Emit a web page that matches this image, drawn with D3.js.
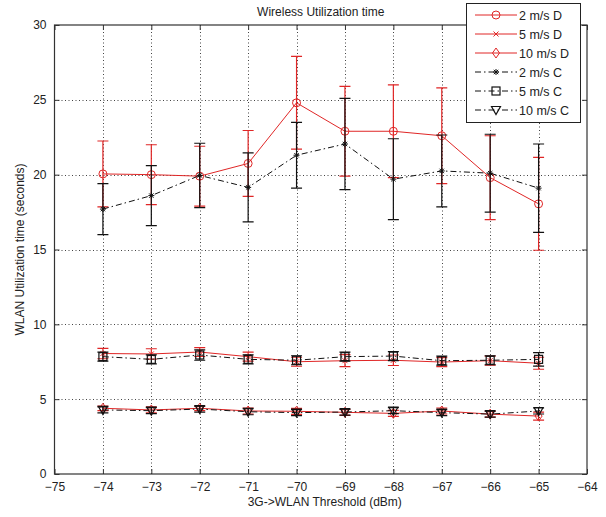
<!DOCTYPE html>
<html>
<head>
<meta charset="utf-8">
<script src="https://cdn.jsdelivr.net/npm/d3@7"></script>
<style>
  html, body { margin: 0; padding: 0; background: #fff; }
  svg { display: block; font-family: "Liberation Sans", Arial, sans-serif; }
</style>
</head>
<body>
<svg id="chart" width="606" height="517"></svg>
<script>
// Handover threshold (dBm) on the x axis
const thresholds = [-74, -73, -72, -71, -70, -69, -68, -67, -66, -65];

// Mean WLAN utilization time (s) and error half-widths per speed / scheme
const d2  = [20.05, 20.0, 19.9, 20.75, 24.8, 22.9, 22.9, 22.6, 19.8, 18.05];
const d2Err = [2.2, 2.0, 2.0, 2.2, 3.1, 3.0, 3.1, 3.2, 2.8, 3.1];
const d5  = [8.05, 8.02, 8.15, 7.84, 7.5, 7.57, 7.6, 7.48, 7.57, 7.4];
const d5Err = [0.35, 0.35, 0.3, 0.3, 0.3, 0.4, 0.35, 0.3, 0.3, 0.4];
const d10 = [4.39, 4.28, 4.39, 4.21, 4.19, 4.12, 4.05, 4.21, 4.0, 3.87];
const d10Err = [0.15, 0.2, 0.15, 0.2, 0.2, 0.2, 0.2, 0.2, 0.2, 0.27];
const c2  = [17.7, 18.6, 19.95, 19.15, 21.3, 22.05, 19.7, 20.25, 20.1, 19.1];
const c2Err = [1.7, 2.0, 2.15, 2.3, 2.2, 3.05, 2.7, 2.4, 2.6, 2.95];
const c5  = [7.84, 7.66, 7.95, 7.66, 7.6, 7.84, 7.88, 7.57, 7.6, 7.66];
const c5Err = [0.3, 0.3, 0.35, 0.3, 0.3, 0.3, 0.3, 0.3, 0.3, 0.45];
const c10 = [4.28, 4.23, 4.34, 4.16, 4.1, 4.14, 4.23, 4.1, 4.0, 4.21];
const c10Err = [0.2, 0.2, 0.2, 0.2, 0.2, 0.2, 0.2, 0.2, 0.2, 0.2];

const seriesNames = ["2 m/s D", "5 m/s D", "10 m/s D", "2 m/s C", "5 m/s C", "10 m/s C"];
const xTicks = [-75, -74, -73, -72, -71, -70, -69, -68, -67, -66, -65, -64];
const yTicks = [0, 5, 10, 15, 20, 25, 30];

const RED = "#e02626";
const BLACK = "#111";
const DASHDOT = "6,3,1.5,3";

const series = [
  { name: seriesNames[0], values: d2,  err: d2Err,  color: RED,   dash: null,    marker: "circle" },
  { name: seriesNames[1], values: d5,  err: d5Err,  color: RED,   dash: null,    marker: "x" },
  { name: seriesNames[2], values: d10, err: d10Err, color: RED,   dash: null,    marker: "diamond" },
  { name: seriesNames[3], values: c2,  err: c2Err,  color: BLACK, dash: DASHDOT, marker: "star" },
  { name: seriesNames[4], values: c5,  err: c5Err,  color: BLACK, dash: DASHDOT, marker: "square" },
  { name: seriesNames[5], values: c10, err: c10Err, color: BLACK, dash: DASHDOT, marker: "triangle" }
];

const svg = d3.select("#chart");
const plotLeft = 54.5, plotRight = 587, plotTop = 25, plotBottom = 474;

const x = d3.scaleLinear().domain([-75, -64]).range([plotLeft, plotRight]);
const y = d3.scaleLinear().domain([0, 30]).range([plotBottom, plotTop]);

// dotted grid
const grid = svg.append("g").attr("stroke", "#444").attr("stroke-width", 1)
  .attr("stroke-dasharray", "1,2.5");
xTicks.slice(1, -1).forEach(t => {
  grid.append("line").attr("x1", Math.round(x(t)) + 0.5).attr("x2", Math.round(x(t)) + 0.5)
    .attr("y1", plotTop).attr("y2", plotBottom);
});
yTicks.slice(1, -1).forEach(t => {
  grid.append("line").attr("y1", Math.round(y(t)) + 0.5).attr("y2", Math.round(y(t)) + 0.5)
    .attr("x1", plotLeft).attr("x2", plotRight);
});

// axes with inward ticks
const tickLen = 5;
const axisColor = "#333";
const xAxis = d3.axisBottom(x).tickValues(xTicks).tickSize(-tickLen).tickPadding(8)
  .tickFormat(d3.format("d"));
const yAxis = d3.axisLeft(y).tickValues(yTicks).tickSize(-tickLen).tickPadding(8)
  .tickFormat(d3.format("d"));
const xTop = d3.axisTop(x).tickValues(xTicks).tickSize(-tickLen).tickFormat("");
const yRight = d3.axisRight(y).tickValues(yTicks).tickSize(-tickLen).tickFormat("");

function styleAxis(g) {
  g.select("path.domain").remove();
  g.selectAll(".tick line").attr("stroke", axisColor);
  g.selectAll(".tick text").attr("fill", "#222").attr("font-size", 12)
    .attr("font-family", "'Liberation Sans', Arial, sans-serif");
}
svg.append("g").attr("transform", `translate(0,${plotBottom})`).call(xAxis).call(styleAxis);
svg.append("g").attr("transform", `translate(${plotLeft},0)`).call(yAxis).call(styleAxis);
svg.append("g").attr("transform", `translate(0,${plotTop})`).call(xTop).call(styleAxis);
svg.append("g").attr("transform", `translate(${plotRight},0)`).call(yRight).call(styleAxis);
svg.append("rect").attr("x", plotLeft).attr("y", plotTop)
  .attr("width", plotRight - plotLeft).attr("height", plotBottom - plotTop)
  .attr("fill", "none").attr("stroke", axisColor).attr("stroke-width", 1.2);

// marker shapes
function drawMarker(g, type, cx, cy, color) {
  const r = 4;
  switch (type) {
    case "circle":
      g.append("circle").attr("cx", cx).attr("cy", cy).attr("r", r)
        .attr("fill", "none").attr("stroke", color).attr("stroke-width", 1);
      break;
    case "x":
      g.append("path").attr("d", `M${cx - 2.5},${cy - 2.5}L${cx + 2.5},${cy + 2.5}M${cx - 2.5},${cy + 2.5}L${cx + 2.5},${cy - 2.5}`)
        .attr("stroke", color).attr("stroke-width", 1);
      break;
    case "diamond":
      g.append("path").attr("d", `M${cx},${cy - 5}L${cx + 3.5},${cy}L${cx},${cy + 5}L${cx - 3.5},${cy}Z`)
        .attr("fill", "none").attr("stroke", color).attr("stroke-width", 1);
      break;
    case "star":
      g.append("path").attr("d",
        `M${cx - 3},${cy}L${cx + 3},${cy}M${cx},${cy - 3}L${cx},${cy + 3}` +
        `M${cx - 2.2},${cy - 2.2}L${cx + 2.2},${cy + 2.2}M${cx - 2.2},${cy + 2.2}L${cx + 2.2},${cy - 2.2}`)
        .attr("stroke", color).attr("stroke-width", 1);
      break;
    case "square":
      g.append("rect").attr("x", cx - 4).attr("y", cy - 4).attr("width", 8).attr("height", 8)
        .attr("fill", "none").attr("stroke", color).attr("stroke-width", 1.2);
      break;
    case "triangle":
      g.append("path").attr("d", `M${cx - 4.5},${cy - 3.5}L${cx + 4.5},${cy - 3.5}L${cx},${cy + 4.5}Z`)
        .attr("fill", "none").attr("stroke", color).attr("stroke-width", 1.2);
      break;
  }
}

// error bars, lines and markers
const plot = svg.append("g");
const capHalf = 5.5;
const lineGen = d3.line().x(d => x(d.t)).y(d => y(d.v));

series.forEach(s => {
  const g = plot.append("g");
  const pts = thresholds.map((t, i) => ({ t, v: s.values[i], e: s.err[i] }));
  pts.forEach(p => {
    const px = x(p.t), hi = y(p.v + p.e), lo = y(p.v - p.e);
    g.append("path")
      .attr("d", `M${px},${hi}L${px},${lo}M${px - capHalf},${hi}L${px + capHalf},${hi}M${px - capHalf},${lo}L${px + capHalf},${lo}`)
      .attr("stroke", s.color).attr("stroke-width", 1.2).attr("fill", "none");
  });
  g.append("path").datum(pts).attr("d", lineGen)
    .attr("fill", "none").attr("stroke", s.color).attr("stroke-width", 1)
    .attr("stroke-dasharray", s.dash);
  pts.forEach(p => drawMarker(g, s.marker, x(p.t), y(p.v), s.color));
});

// title and axis labels
svg.append("text").attr("x", (plotLeft + plotRight) / 2).attr("y", 16).attr("text-anchor", "middle")
  .attr("font-size", 12).attr("fill", "#222").text("Wireless Utilization time");
svg.append("text").attr("x", (plotLeft + plotRight) / 2 + 4).attr("y", 506).attr("text-anchor", "middle")
  .attr("font-size", 12).attr("fill", "#222").text("3G->WLAN Threshold (dBm)");
svg.append("text").attr("transform", `translate(24,${(plotTop + plotBottom) / 2}) rotate(-90)`)
  .attr("text-anchor", "middle").attr("font-size", 12).attr("fill", "#222")
  .text("WLAN Utilization time (seconds)");

// legend
const lg = svg.append("g");
lg.append("rect").attr("x", 466.5).attr("y", 3.5).attr("width", 114).attr("height", 119)
  .attr("fill", "#fff").attr("stroke", "#222").attr("stroke-width", 1);
series.forEach((s, i) => {
  const ly = 15 + i * 19;
  lg.append("line").attr("x1", 475).attr("x2", 517).attr("y1", ly).attr("y2", ly)
    .attr("stroke", s.color).attr("stroke-width", 1).attr("stroke-dasharray", s.dash);
  drawMarker(lg, s.marker, 496, ly, s.color);
  lg.append("text").attr("x", 519).attr("y", ly + 4.5).attr("font-size", 12.5).attr("fill", "#222")
    .text(s.name);
});
</script>
</body>
</html>
